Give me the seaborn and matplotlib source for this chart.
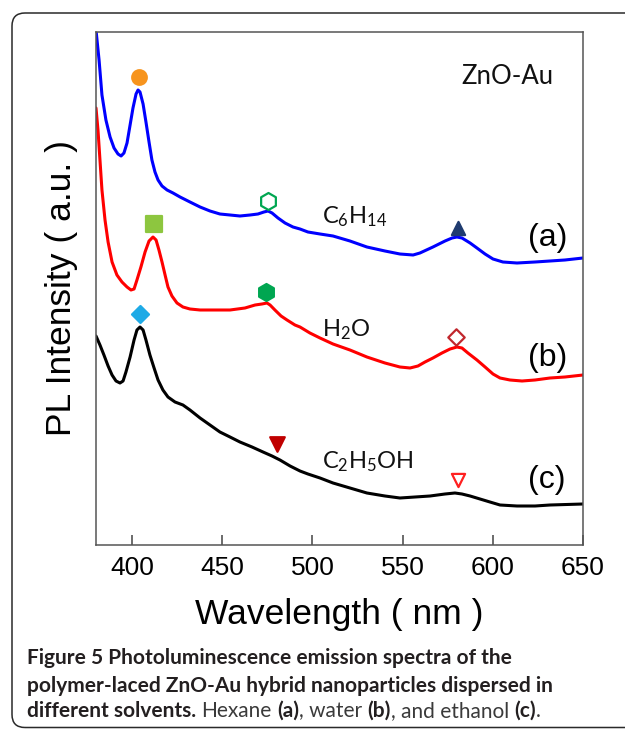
import matplotlib
matplotlib.use("Agg")
import matplotlib.pyplot as plt
import seaborn as sns
import pandas as pd
from matplotlib.patches import FancyBboxPatch
from matplotlib.transforms import IdentityTransform

# ---------------- data ----------------
wl_a = [380.0, 381.7, 383.3, 385.5, 387.8, 390.0, 392.2, 393.9, 395.5, 397.2, 398.9,
        400.5, 402.2, 403.3, 404.4, 406.1, 407.7, 409.4, 411.0, 412.7, 414.4, 416.6,
        419.4, 422.7, 426.6, 432.1, 437.7, 443.2, 448.7, 454.3, 459.8, 465.4, 469.8,
        473.1, 475.4, 477.6, 480.9, 484.8, 489.2, 493.1, 497.5, 504.2, 511.4, 520.8,
        530.2, 540.2, 548.5, 555.8, 559.6, 566.8, 573.5, 577.4, 580.1, 582.9, 587.4,
        591.2, 595.7, 600.1, 605.6, 613.4, 623.4, 631.7, 640.0, 650.0]
int_a = [515, 485, 450, 425, 408, 397, 391, 389, 392, 402, 420,
         437, 451, 455, 453, 441, 423, 403, 385, 373, 365, 359,
         355, 352, 348, 343, 338, 334, 331, 330, 329, 330, 331,
         333, 334, 332, 327, 322, 318, 316, 313, 311, 309, 304,
         298, 294, 291, 290, 292, 298, 304, 307, 308, 307, 302,
         297, 291, 286, 283, 282, 283, 284, 285, 287]

wl_b = [380.0, 381.1, 382.2, 383.3, 385.0, 386.7, 388.9, 391.6, 394.4, 397.2, 399.4,
        401.1, 402.7, 404.9, 407.2, 409.4, 411.6, 413.3, 414.9, 416.6, 418.3, 419.9,
        422.1, 424.9, 428.2, 432.1, 437.7, 446.0, 454.3, 462.6, 468.2, 472.0, 474.8,
        476.5, 479.2, 482.6, 485.9, 490.3, 493.1, 498.6, 504.2, 511.4, 520.8, 530.2,
        540.2, 548.5, 554.1, 558.5, 562.4, 566.8, 571.8, 576.3, 580.1, 582.9, 586.2,
        591.2, 595.7, 600.1, 604.0, 609.5, 616.2, 623.4, 631.7, 640.0, 650.0]
int_b = [437, 415, 385, 355, 325, 303, 283, 270, 263, 258, 255,
         256, 265, 278, 293, 304, 308, 305, 295, 283, 270, 258,
         249, 242, 238, 236, 235, 235, 235, 237, 240, 241, 242,
         240, 235, 229, 225, 220, 218, 212, 207, 201, 195, 188,
         182, 178, 177, 179, 183, 187, 192, 196, 198, 197, 192,
         185, 178, 171, 167, 165, 164, 165, 167, 168, 170]

wl_c = [380.0, 382.2, 384.4, 386.7, 388.9, 391.1, 393.3, 395.0, 396.6, 398.9, 401.1,
        402.7, 404.4, 406.1, 407.7, 409.9, 412.2, 414.4, 417.1, 419.9, 423.8, 428.2,
        432.1, 437.7, 443.2, 448.7, 454.3, 459.8, 466.5, 472.6, 477.6, 482.0, 487.6,
        493.1, 497.5, 504.2, 511.4, 520.8, 530.2, 540.2, 548.5, 556.9, 565.2, 573.5,
        579.0, 582.9, 587.4, 592.9, 598.4, 604.0, 613.4, 623.4, 631.7, 650.0]
int_c = [209, 200, 190, 179, 170, 164, 162, 164, 173, 188, 205,
         215, 218, 215, 205, 190, 177, 165, 155, 148, 143, 140,
         135, 127, 120, 113, 108, 103, 98, 93, 89, 85, 79,
         74, 71, 67, 62, 57, 52, 49, 47, 48, 49, 51,
         52, 51, 49, 46, 43, 40, 39, 39, 40, 41]

series_tags = ["(a)", "(b)", "(c)"]
solvents = [r"C$_\mathregular{6}$H$_\mathregular{14}$",
            r"H$_\mathregular{2}$O",
            r"C$_\mathregular{2}$H$_\mathregular{5}$OH"]
x_ticks = [400, 450, 500, 550, 600, 650]

# peak markers
peak_wl = [403.8, 475.4, 580.7, 412.2, 474.2, 579.6, 404.4, 480.3, 580.7]
peak_int = [468, 344, 317, 321, 253, 208, 231, 101, 65]

caption_lines = ["Figure 5 Photoluminescence emission spectra of the",
                 "polymer-laced ZnO-Au hybrid nanoparticles dispersed in"]
caption_last = [("different solvents.", True), ("Hexane", False), ("(a)", True),
                (", water", False), ("(b)", True), (", and ethanol", False),
                ("(c)", True), (".", False)]

# ---------------- styles ----------------
line_colors = ["#0000FF", "#FF0000", "#000000"]
peak_style = [  # marker, face, edge, size
    ("o", "#F7941D", "#F7941D", 110),
    ("h", "white", "#00A651", 150),
    ("^", "#1F3B6F", "#1F3B6F", 90),
    ("s", "#8DC63F", "#8DC63F", 120),
    ("h", "#00A651", "#00A651", 150),
    ("D", "white", "#C1272D", 70),
    ("D", "#1EAAE6", "#1EAAE6", 75),
    ("v", "#C00000", "#C00000", 110),
    ("v", "white", "#FF2020", 90),
]

sns.set_theme(style="ticks")
plt.rcParams["font.family"] = ["Liberation Sans", "DejaVu Sans"]
plt.rcParams["mathtext.fontset"] = "custom"
plt.rcParams["mathtext.rm"] = "Lato"
plt.rcParams["mathtext.bf"] = "Lato:bold"
plt.rcParams["mathtext.it"] = "Lato:italic"

fig = plt.figure(figsize=(6.25, 7.29), dpi=100)
ax = fig.add_axes([96 / 625, 1 - 545 / 729, 487 / 625, 513 / 729])

frames = []
for wl, it, name in zip([wl_a, wl_b, wl_c], [int_a, int_b, int_c], series_tags):
    frames.append(pd.DataFrame({"wavelength": wl, "intensity": it, "series": name}))
df = pd.concat(frames, ignore_index=True)

sns.lineplot(data=df, x="wavelength", y="intensity", hue="series",
             palette=line_colors, estimator=None, sort=False, linewidth=2.2,
             legend=False, ax=ax, solid_joinstyle="round", solid_capstyle="round")

for x, y, (m, fc, ec, s) in zip(peak_wl, peak_int, peak_style):
    sns.scatterplot(x=[x], y=[y], marker=m, s=s, color=fc, edgecolor=ec,
                    linewidth=1.6, ax=ax, legend=False, zorder=5)

ax.set_xlim(380, 650)
ax.set_ylim(0, 513)
ax.set_xticks(x_ticks)
ax.set_xticklabels([str(t) for t in x_ticks])
ax.set_yticks([])
ax.tick_params(axis="x", which="major", direction="in", length=7.5, width=1.1,
               color="#444444", labelsize=19, pad=8, bottom=True, top=False,
               labelcolor="black")
for sp in ax.spines.values():
    sp.set_color("#555555")
    sp.set_linewidth(1.1)

ax.set_xlabel("Wavelength ( nm )", fontsize=25.5, labelpad=13, color="black")
ax.set_ylabel("PL Intensity ( a.u. )", fontsize=25.5, labelpad=13, color="black")

ann_font = ["Lato", "DejaVu Sans"]
ax.text(607.9, 468, "ZnO-Au", fontsize=18.5, ha="center", va="center",
        family=ann_font, color="#111111")
sol_y = [328, 215, 83]
tag_y = [307, 187, 65]
for lab, yy in zip(solvents, sol_y):
    ax.text(505.3, yy, lab, fontsize=17, ha="left", va="center", family=ann_font,
            color="#111111")
for tag, yy in zip(series_tags, tag_y):
    ax.text(619.5, yy, tag, fontsize=23, ha="left", va="center", color="black")

# frame around figure
frame = FancyBboxPatch((12, 1.5), 700, 714.5, boxstyle="round,pad=0,rounding_size=13",
                       transform=IdentityTransform(), fill=False,
                       edgecolor="#2A2A2A", linewidth=1.1, clip_on=False)
fig.patches.append(frame)

# caption
cap_size = 15
cap_x = 27 / 625
for line, ypx in zip(caption_lines, [664, 692]):
    fig.text(cap_x, 1 - ypx / 729, line, fontsize=cap_size, fontweight="bold",
             family=ann_font, color="#231F20", va="baseline")

renderer = fig.canvas.get_renderer()
probe1 = fig.text(0, 0, "x x", fontsize=cap_size, family=ann_font)
probe2 = fig.text(0, 0, "xx", fontsize=cap_size, family=ann_font)
space_px = (probe1.get_window_extent(renderer).width
            - probe2.get_window_extent(renderer).width)
probe1.remove()
probe2.remove()

xpx = 27.0
y3 = 1 - 717 / 729
for i, (piece, bold) in enumerate(caption_last):
    if i > 0 and not piece.startswith(",") and piece != ".":
        xpx += space_px
    t = fig.text(xpx / 625, y3, piece, fontsize=cap_size,
                 fontweight="bold" if bold else "normal", family=ann_font,
                 color="#231F20" if bold else "#3A3A3A", va="baseline")
    xpx += t.get_window_extent(renderer).width

fig.savefig("out.png", dpi=100)
